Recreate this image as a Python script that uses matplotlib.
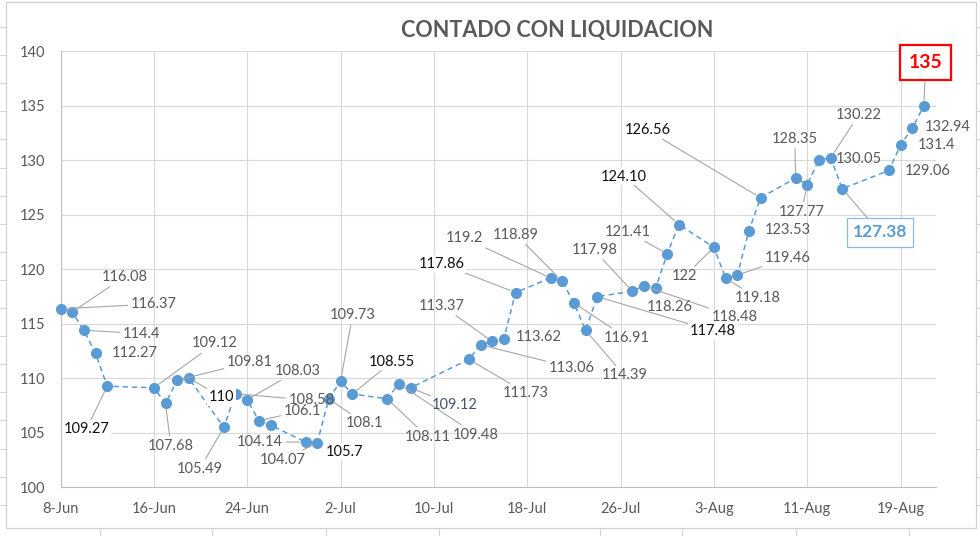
import matplotlib
matplotlib.use("Agg")
import matplotlib.pyplot as plt
import matplotlib.dates as mdates
from matplotlib.patches import Rectangle
from matplotlib.lines import Line2D
import datetime as dt

plt.rcParams['font.family'] = ['Lato', 'DejaVu Sans']

# ---------------- data ----------------
dates = ["2020-06-08", "2020-06-09", "2020-06-10", "2020-06-11", "2020-06-12",
         "2020-06-16", "2020-06-17", "2020-06-18", "2020-06-19",
         "2020-06-22", "2020-06-23", "2020-06-24", "2020-06-25", "2020-06-26",
         "2020-06-29", "2020-06-30", "2020-07-01", "2020-07-02", "2020-07-03",
         "2020-07-06", "2020-07-07", "2020-07-08",
         "2020-07-13", "2020-07-14", "2020-07-15", "2020-07-16", "2020-07-17",
         "2020-07-20", "2020-07-21", "2020-07-22", "2020-07-23", "2020-07-24",
         "2020-07-27", "2020-07-28", "2020-07-29", "2020-07-30", "2020-07-31",
         "2020-08-03", "2020-08-04", "2020-08-05", "2020-08-06", "2020-08-07",
         "2020-08-10", "2020-08-11", "2020-08-12", "2020-08-13", "2020-08-14",
         "2020-08-18", "2020-08-19", "2020-08-20", "2020-08-21"]
values = [116.37, 116.08, 114.4, 112.27, 109.27,
          109.12, 107.68, 109.81, 110,
          105.49, 108.58, 108.03, 106.1, 105.7,
          104.14, 104.07, 108.1, 109.73, 108.55,
          108.11, 109.48, 109.12,
          111.73, 113.06, 113.37, 113.62, 117.86,
          119.2, 118.89, 116.91, 114.39, 117.48,
          117.98, 118.48, 118.26, 121.41, 124.10,
          122, 119.18, 119.46, 123.53, 126.56,
          128.35, 127.77, 130.05, 130.22, 127.38,
          129.06, 131.4, 132.94, 135]
label_decimals = {"2020-07-31": 2}
title = "CONTADO CON LIQUIDACION"
y_ticks = [100, 105, 110, 115, 120, 125, 130, 135, 140]
x_start, x_end = "2020-06-08", "2020-08-22"

# ---------------- layout of the data labels (image px offsets, y down) ----------------
label_offsets = [(93, -4.7), (52.3, -35), (57.7, 3.3), (39.3, 0), (-20.7, 43),
                 (61, -44.3), (5.3, 42.3), (72.3, -18), (33, 18.7),
                 (-24, 41.3), (76, 6.7), (50.3, -29), (43.7, -10), (74.3, 26.5),
                 (-45.3, 0), (-34, 17), (35.7, 24.5), (12, -65.7), (40, -32.3),
                 (40.3, 38), (77.3, 50.7), (44, 17.7),
                 (57.3, 33.7), (91, 22.7), (-50, -35.7), (35, -1.3), (-74, -28.7),
                 (-86, -39.7), (-46.3, -46.7), (52.3, 34.7), (38.7, 45), (115.7, 34.3),
                 (-38, -41), (90.7, 31.3), (14.3, 19.3), (-39.7, -22.3), (-54.7, -48),
                 (-29.3, 28.7), (31.7, 20), (50.3, -17.3), (39, -0.7), (-113, -67.3),
                 (-0.7, -39.3), (-5.7, 27), (40, -1), (28.3, -43), (37.7, 43.7),
                 (39, 0.3), (36.3, 0.3), (35.7, -0.7), (1.7, -43)]
leaders = [1, 1, 1, 0, 1,
           1, 1, 1, 1,
           1, 1, 1, 1, 0,
           1, 1, 1, 1, 1,
           1, 1, 1,
           1, 1, 1, 0, 1,
           1, 1, 1, 1, 1,
           1, 1, 0, 1, 1,
           1, 1, 1, 0, 1,
           1, 1, 0, 1, 1,
           0, 0, 0, 1]
styles = ['n', 'n', 'n', 'n', 'b',
          'n', 'n', 'n', 'b',
          'n', 'n', 'n', 'n', 'b',
          'n', 'n', 'n', 'n', 'b',
          'n', 'n', 's',
          'n', 'n', 'n', 'n', 'b',
          'n', 'n', 'n', 'n', 'b',
          'n', 'n', 'n', 'n', 'b',
          'n', 'n', 'n', 'n', 'b',
          'n', 'n', 'n', 'n', 'blue',
          'n', 'n', 'n', 'red']

BLUE = '#5b9bd5'
GRAY_TXT = '#595959'

fig = plt.figure(figsize=(9.8, 5.36), dpi=100)
W, H = 980, 536

# spreadsheet cell lines peeking around the chart
for k in range(19):
    y = 27 + 28.1 * k
    if y > 528:
        break
    fig.add_artist(Line2D([0, 6 / W], [1 - y / H] * 2, transform=fig.transFigure,
                          color='#d4d4d4', lw=0.75))
    fig.add_artist(Line2D([976 / W, 1], [1 - y / H] * 2, transform=fig.transFigure,
                          color='#d4d4d4', lw=0.75))
for x in [100, 212, 326, 439, 600, 682, 796, 909]:
    fig.add_artist(Line2D([x / W] * 2, [0, 1 - 529 / H], transform=fig.transFigure,
                          color='#d4d4d4', lw=0.75))
# chart border
fig.add_artist(Rectangle((6 / W, 1 - 528 / H), (976 - 6) / W, (528 - 1.5) / H,
                         transform=fig.transFigure, fill=False, ec='#d0d0d0', lw=0.9))

ax = fig.add_axes([60.5 / W, 1 - 487.2 / H, (935.6 - 60.5) / W, (487.2 - 51.2) / H])

xd = [dt.datetime.strptime(d, "%Y-%m-%d") for d in dates]
ax.plot(xd, values, color=BLUE, lw=1.1, dashes=(3.5, 2.5), marker='o',
        markersize=7.0, markerfacecolor=BLUE, markeredgecolor=BLUE, zorder=3,
        clip_on=False)

x0 = dt.datetime.strptime(x_start, "%Y-%m-%d")
x1 = dt.datetime.strptime(x_end, "%Y-%m-%d")
ax.set_xlim(x0, x1)
ax.set_ylim(y_ticks[0], y_ticks[-1])
ax.set_yticks(y_ticks)
ax.set_xticks([x0 + dt.timedelta(days=8 * k) for k in range(10)])
ax.xaxis.set_major_formatter(mdates.DateFormatter('%-d-%b'))
ax.grid(True, color='#d9d9d9', lw=0.8, zorder=0)
ax.set_axisbelow(True)
for s in ['top', 'right']:
    ax.spines[s].set_visible(False)
for s in ['left', 'bottom']:
    ax.spines[s].set_color('#bfbfbf')
    ax.spines[s].set_linewidth(0.8)
ax.tick_params(axis='y', length=0, labelsize=10.5, labelcolor=GRAY_TXT, pad=11)
ax.tick_params(axis='x', length=0, labelsize=10.5, labelcolor=GRAY_TXT, pad=11)

# data labels
for d, v, (dx, dy), lead, sty in zip(xd, values, label_offsets, leaders, styles):
    key = d.strftime("%Y-%m-%d")
    txt = f"{v:.{label_decimals[key]}f}" if key in label_decimals else f"{v:g}"
    kw = dict(fontsize=10.5, color=GRAY_TXT, ha='center', va='center', zorder=6)
    if sty == 'b':
        kw.update(color='#111111', bbox=dict(boxstyle='square,pad=0.12', fc='white', ec='none'))
    elif sty == 's':
        kw.update(color='#44546a')
    elif sty == 'blue':
        kw.update(fontsize=12.5, fontweight='bold', color=BLUE,
                  bbox=dict(boxstyle='square,pad=0.36', fc='white', ec='#8fb8e0', lw=0.9))
    elif sty == 'red':
        kw.update(fontsize=14, fontweight='bold', color='#ff0000',
                  bbox=dict(boxstyle='square,pad=0.45', fc='white', ec='#ff0000', lw=1.6))
    ap = dict(arrowstyle='-', color='#a6a6a6', lw=0.8, shrinkA=0, shrinkB=4) if lead else None
    ax.annotate(txt, xy=(d, v), xytext=(dx * 0.72, -dy * 0.72), textcoords='offset points',
                annotation_clip=False, arrowprops=ap, **kw)

fig.text(557 / W, 1 - 30 / H, title, ha='center', va='center', fontsize=15.5,
         fontweight='bold', color=GRAY_TXT)

fig.savefig("out.png", dpi=100)
